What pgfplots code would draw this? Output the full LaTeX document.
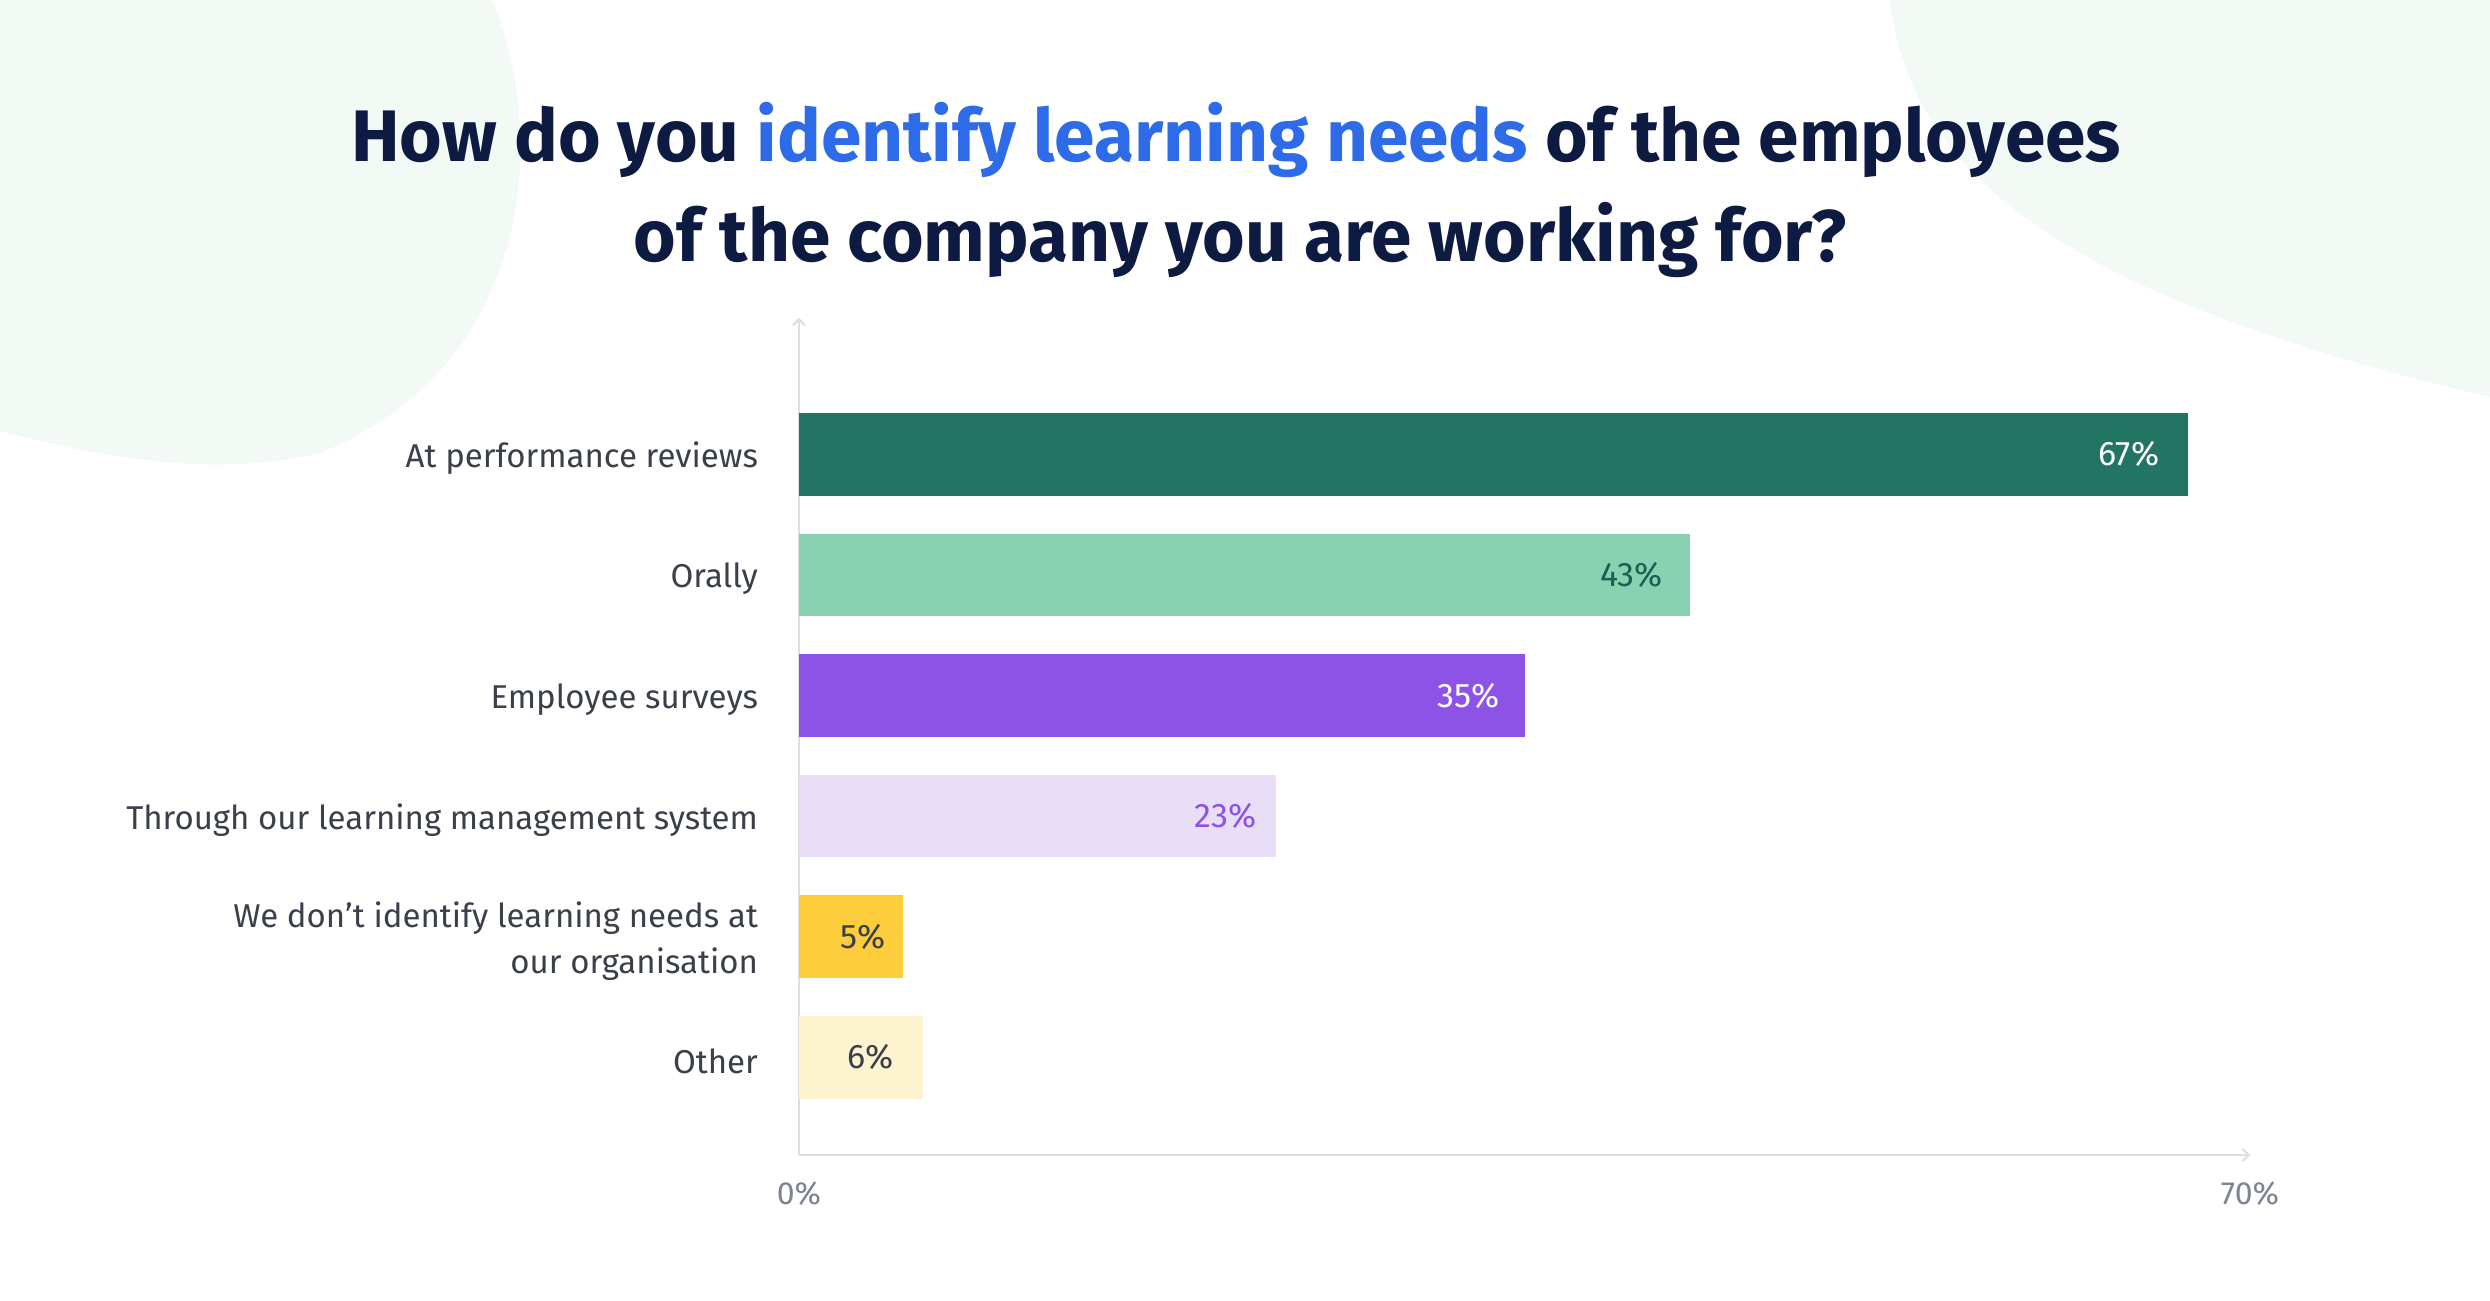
\documentclass[border=0pt]{standalone}
\usepackage{pgfplots}
\pgfplotsset{compat=1.18}
\usepackage{fontspec}
\setmainfont{Fira Sans}
\usetikzlibrary{arrows.meta}

\definecolor{navy}{HTML}{0D1A42}
\definecolor{hiblue}{HTML}{2D6BE8}
\definecolor{labelgray}{HTML}{3B3F4A}
\definecolor{tickgray}{HTML}{7C8494}
\definecolor{linegray}{HTML}{DCDEE2}
\definecolor{blob}{HTML}{F3F9F5}
\definecolor{cA}{HTML}{227563}
\definecolor{cB}{HTML}{88D1B1}
\definecolor{cC}{HTML}{8D52E6}
\definecolor{cD}{HTML}{E8DEF8}
\definecolor{cE}{HTML}{FECD3C}
\definecolor{cF}{HTML}{FEF3CF}
\definecolor{tB}{HTML}{1E5E55}

\begin{document}
\begin{tikzpicture}
\useasboundingbox (0pt,0pt) rectangle (1245pt,650.5pt);
\fill[white] (0pt,0pt) rectangle (1245pt,650.5pt);
% background shapes
\fill[blob] (0pt,650.5pt) -- (246pt,650.5pt)
  .. controls (272pt,590pt) and (272pt,470pt) .. (160pt,424pt)
  .. controls (100pt,410pt) and (40pt,425pt) .. (0pt,435pt) -- cycle;
\fill[blob] (945pt,650.5pt) .. controls (955pt,560pt) and (1040pt,500pt)
  .. (1245pt,452pt) -- (1245pt,650.5pt) -- cycle;

% title
\node[anchor=base, font=\fontsize{36.5}{44}\selectfont\bfseries, text=navy]
  at (618pt,569.5pt) {How do you \textcolor{hiblue}{identify learning needs} of the employees};
\node[anchor=base, font=\fontsize{36.5}{44}\selectfont\bfseries, text=navy]
  at (620pt,519.5pt) {of the company you are working for?};

\begin{axis}[
    at={(399.5pt,73pt)}, anchor=south west,
    scale only axis,
    width=725.5pt, height=418.5pt,
    xbar, bar shift=0pt, bar width=41.3pt,
    xmin=0, xmax=70,
    ymin=-0.81, ymax=6.13,
    axis lines=left,
    axis line style={draw=linegray, line width=1pt},
    x axis line style={-{Straight Barb[length=3pt,width=6pt]}},
    y axis line style={-{Straight Barb[length=3pt,width=6pt]}},
    major tick length=0pt,
    xtick={0,70}, xticklabels={0\%,70\%},
    xticklabel style={font=\fontsize{16}{19}\selectfont, text=tickgray, yshift=-10pt},
    ytick={0,1,2,3,4,5},
    yticklabels={Other, We don’t identify learning needs at\\our organisation,
      Through our learning management system, Employee surveys, Orally,
      At performance reviews},
    yticklabel style={font=\fontsize{16.5}{23}\selectfont, text=labelgray, align=right,
      xshift=-17pt, yshift=-2pt},
    point meta=explicit symbolic,
    nodes near coords,
    nodes near coords style={font=\fontsize{17}{20}\selectfont, anchor=east, inner sep=0pt},
    clip=false,
]
\addplot[fill=cA, draw=none, nodes near coords style={text=white, xshift=-14pt}]
  coordinates {(67,5) [67\%]};
\addplot[fill=cB, draw=none, nodes near coords style={text=tB, xshift=-13.5pt}]
  coordinates {(43,4) [43\%]};
\addplot[fill=cC, draw=none, nodes near coords style={text=white, xshift=-12.5pt}]
  coordinates {(35,3) [35\%]};
\addplot[fill=cD, draw=none, nodes near coords style={text=cC, xshift=-9.5pt}]
  coordinates {(23,2) [23\%]};
\addplot[fill=cE, draw=none, nodes near coords style={text=labelgray, xshift=-8.5pt}]
  coordinates {(5,1) [5\%]};
\addplot[fill=cF, draw=none, nodes near coords style={text=labelgray, xshift=-14.5pt}]
  coordinates {(6,0) [6\%]};
\end{axis}
\end{tikzpicture}
\end{document}
